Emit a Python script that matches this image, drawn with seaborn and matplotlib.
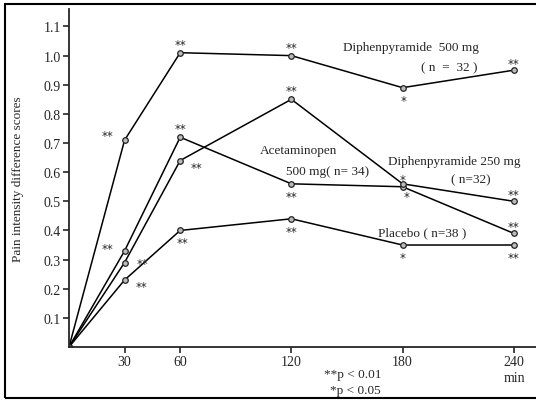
import pandas as pd
import numpy as np
import matplotlib.pyplot as plt
import seaborn as sns
from matplotlib.patches import Rectangle

# data
minutes = [0, 30, 60, 120, 180, 240]
diph500 = [0, 0.71, 1.01, 1.00, 0.89, 0.95]
diph250 = [0, 0.29, 0.64, 0.85, 0.56, 0.50]
acetamin = [0, 0.33, 0.72, 0.56, 0.55, 0.39]
placebo = [0, 0.23, 0.40, 0.44, 0.35, 0.35]

# significance marks per point (None at t=0)
sig500 = [None, '**', '**', '**', '*', '**']
sig250 = [None, '**', '**', '**', '*', '**']
sigacet = [None, '**', '**', '**', '*', '**']
sigplac = [None, '**', '**', '**', '*', '**']

xticks = [30, 60, 120, 180, 240]
yticks = [0.1, 0.2, 0.3, 0.4, 0.5, 0.6, 0.7, 0.8, 0.9, 1.0, 1.1]

sns.set_style('ticks')
plt.rcParams['font.family'] = ['Liberation Serif', 'DejaVu Serif']

df = pd.concat([
    pd.DataFrame({'min': minutes, 'score': diph500, 'grp': 'd500'}),
    pd.DataFrame({'min': minutes, 'score': diph250, 'grp': 'd250'}),
    pd.DataFrame({'min': minutes, 'score': acetamin, 'grp': 'acet'}),
    pd.DataFrame({'min': minutes, 'score': placebo, 'grp': 'plac'}),
])

fig = plt.figure(figsize=(5.36, 4.02), dpi=100)
ax = fig.add_axes([69/536, 54/402, (536-69)/536, (348-10)/402])

sns.lineplot(data=df, x='min', y='score', units='grp', estimator=None,
             color='black', lw=1.1, marker='o', markersize=4,
             markerfacecolor='#bbbbbb', markeredgecolor='#222222',
             markeredgewidth=0.9, ax=ax, legend=False)

ax.set_xlim(0, 252)
ax.set_ylim(0, 1.16)
ax.set_xticks(xticks)
ax.set_yticks(yticks)
ax.set_xticklabels([str(t) for t in xticks], fontsize=10)
ax.set_yticklabels([f'{v:.1f}' for v in yticks], fontsize=10)
ax.tick_params(axis='both', direction='out', length=4, width=1.2, pad=2)
sns.despine(ax=ax)
ax.spines['left'].set_linewidth(1.3)
ax.spines['bottom'].set_linewidth(1.3)
ax.set_xlabel('')
ax.set_ylabel('Pain intensity difference scores', fontsize=9.5, labelpad=14)

# where each star label sits, in points relative to the marker
offs = {
    'd500': [None, (-12, 3), (0, 6), (0, 6), (1, -9), (0, 5)],
    'd250': [None, (13, -1), (12, -5), (0, 6), (3, -9), (0, 5)],
    'acet': [None, (-12, 2), (0, 6), (0, -9), (0, 5), (0, 5)],
    'plac': [None, (12, -5), (2, -9), (0, -9), (0, -9), (0, -9)],
}
series = {'d500': (diph500, sig500), 'd250': (diph250, sig250),
          'acet': (acetamin, sigacet), 'plac': (placebo, sigplac)}
for key, (vals, sigs) in series.items():
    for i, (m, v, s) in enumerate(zip(minutes, vals, sigs)):
        if s is None:
            continue
        ax.annotate(s, (m, v), xytext=offs[key][i], textcoords='offset points',
                    ha='center', va='center', fontsize=8.5,
                    family='DejaVu Sans')

tk = dict(fontsize=9.5, ha='left', va='center')
ax.text(148, 1.03, 'Diphenpyramide  500 mg', **tk)
ax.text(190, 0.96, '( n  =  32 )', **tk)
ax.text(103, 0.675, 'Acetaminopen', **tk)
ax.text(117, 0.605, '500 mg( n= 34)', **tk)
ax.text(172, 0.64, 'Diphenpyramide 250 mg', **tk)
ax.text(206, 0.575, '( n=32)', **tk)
ax.text(167, 0.395, 'Placebo ( n=38 )', **tk)

fig.text(381/536, 1-375/402, '**p < 0.01', fontsize=9.5, ha='right', va='center')
fig.text(381/536, 1-391/402, '*p < 0.05', fontsize=9.5, ha='right', va='center')
fig.text(514/536, 1-379/402, 'min', fontsize=10, ha='center', va='center')

# outer frame of the scanned figure
fig.patches.append(Rectangle((5/536, 3/402), 540/536, 394/402,
                             transform=fig.transFigure, fill=False,
                             edgecolor='black', lw=1.5))

plt.savefig('out.png', dpi=100)
plt.close()
